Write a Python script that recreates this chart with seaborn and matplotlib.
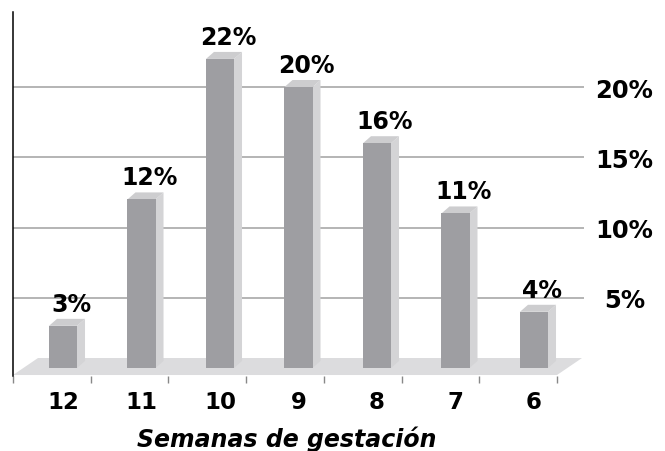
import matplotlib
matplotlib.use('Agg')
import matplotlib.pyplot as plt
import seaborn as sns
import pandas as pd
import numpy as np
from matplotlib.patches import Polygon

# ---- data ----
weeks = ['12', '11', '10', '9', '8', '7', '6']
percent = [3, 12, 22, 20, 16, 11, 4]
ytick_values = [5, 10, 15, 20]
ytick_labels = ['5%', '10%', '15%', '20%']
xlabel = 'Semanas de gestación'

FRONT = '#9e9ea2'
SIDE = '#d4d4d6'
TOP = '#cdcdcf'
FLOOR = '#dcdcde'
GRID = '#b4b4b4'

sns.set_theme(style='white')
plt.rcParams['font.family'] = ['DejaVu Sans']

W, H = 665, 452
fig = plt.figure(figsize=(W / 100, H / 100), dpi=100)
ax = fig.add_axes([13 / W, 75 / H, 571 / W, 364 / H])

df = pd.DataFrame({'week': weeks, 'pct': percent})
sns.barplot(data=df, x='week', y='pct', order=weeks, color=FRONT,
            saturation=1, width=0.357, ax=ax, zorder=4, edgecolor='none')

ax.set_xlim(-0.637, 6.637)
ax.set_ylim(-0.57, 25.34)

# pixel -> data conversion
p0 = ax.transData.transform((0, 0))
p1 = ax.transData.transform((1, 1))
ppx = p1[0] - p0[0]
ppy = p1[1] - p0[1]

# grid lines
for v in ytick_values:
    ax.axhline(v, color=GRID, lw=1.4, zorder=1)

# floor
bounds = np.arange(len(weeks) + 1) * 0.99 - 0.637
fdx, fdy = 25 / ppx, 17 / ppy
fy = -0.5
floor = Polygon([(bounds[0], fy), (bounds[-1], fy),
                 (bounds[-1] + fdx, fy + fdy), (bounds[0] + fdx, fy + fdy)],
                closed=True, facecolor=FLOOR, edgecolor='none', zorder=2,
                clip_on=False)
ax.add_patch(floor)

# 3D faces on bars
bdx, bdy = 8 / ppx, 7 / ppy
bars = [p for p in ax.patches if p is not floor]
for p, v in zip(bars, percent):
    x0, w, h = p.get_x(), p.get_width(), p.get_height()
    side = Polygon([(x0 + w, 0), (x0 + w + bdx, bdy), (x0 + w + bdx, h + bdy), (x0 + w, h)],
                   closed=True, facecolor=SIDE, edgecolor='none', zorder=3)
    top = Polygon([(x0, h), (x0 + bdx, h + bdy), (x0 + w + bdx, h + bdy), (x0 + w, h)],
                  closed=True, facecolor=TOP, edgecolor='none', zorder=3)
    ax.add_patch(side)
    ax.add_patch(top)
    ax.text(x0 + w / 2 + 8 / ppx, h + 15 / ppy, f'{v}%', ha='center', va='baseline',
            fontsize=17, fontweight='bold', color='black', zorder=6)

# spines
for s in ['top', 'right', 'bottom']:
    ax.spines[s].set_visible(False)
ax.spines['left'].set_color('black')
ax.spines['left'].set_linewidth(1.1)

# x ticks
ax.set_xticks(range(len(weeks)))
ax.set_xticklabels(weeks, fontsize=16.5, fontweight='bold', color='black')
ax.set_xticks(bounds, minor=True)
ax.tick_params(axis='x', which='major', length=0, pad=10)
ax.tick_params(axis='x', which='minor', length=5, width=1, color='#888888', direction='out', bottom=True)

# y ticks on right
ax.yaxis.tick_right()
ax.set_yticks(ytick_values)
ax.set_yticklabels(ytick_labels, fontsize=17.5, fontweight='bold', color='black')
ax.tick_params(axis='y', length=0, pad=29)
plt.setp(ax.get_yticklabels(), ha='center')

ax.set_xlabel(xlabel, fontsize=17, fontweight='bold', style='italic', color='black')
ax.xaxis.set_label_coords((287 - 13) / 571, -0.135)
ax.set_ylabel('')

fig.savefig('out.png', dpi=100)
